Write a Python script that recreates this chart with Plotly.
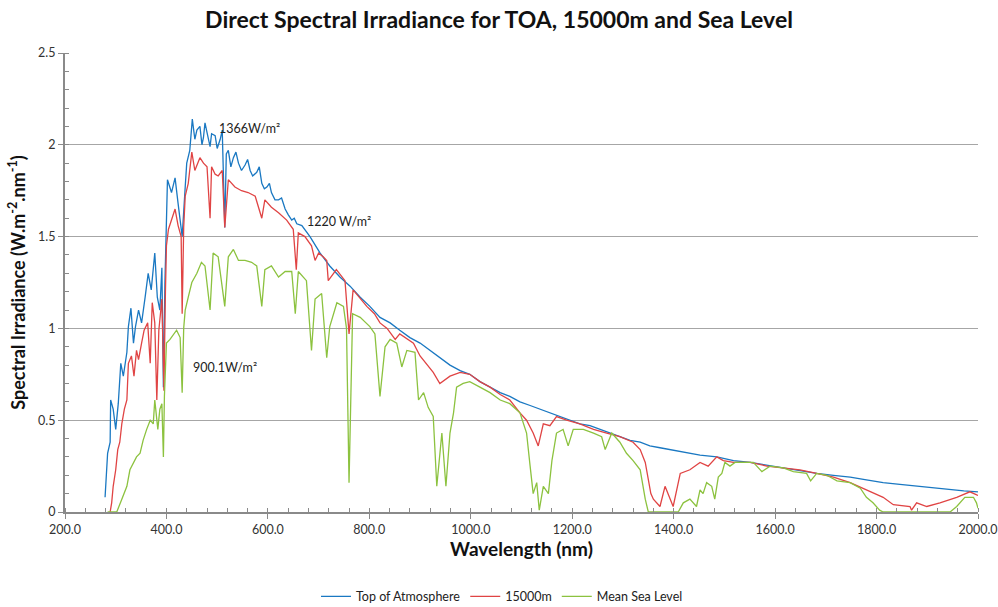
import plotly.graph_objects as go

# ---- data ----
wl_toa = [279, 284, 289, 290, 295, 300, 305, 310, 315, 322, 325, 330, 335, 339, 345, 351, 358, 364, 370, 377,
          382, 387, 391, 394, 397, 400, 402, 410, 417, 423, 427, 431, 437, 440, 446, 451, 456, 460, 466, 470,
          473, 476, 479, 483, 486, 489, 496, 500, 506, 510, 515, 518, 522, 527, 532, 537, 542, 548, 555, 560,
          565, 570, 578, 583, 588, 593, 598, 603, 607, 614, 621, 627, 634, 640, 647, 652, 657, 667, 683, 703,
          722, 742, 762, 782, 801, 821, 841, 860, 880, 900, 920, 939, 959, 979, 998, 1018, 1038, 1058, 1077,
          1097, 1117, 1137, 1156, 1176, 1196, 1215, 1235, 1255, 1275, 1294, 1314, 1334, 1353, 1373, 1393,
          1419, 1452, 1485, 1518, 1551, 1584, 1616, 1649, 1682, 1715, 1748, 1780, 1813, 1846, 1879, 1912,
          1945, 1972, 2000]
toa = [0.08, 0.32, 0.38, 0.61, 0.56, 0.45, 0.59, 0.81, 0.74, 0.87, 1.01, 1.11, 0.92, 1.01, 1.10, 1.03, 1.17,
       1.30, 1.21, 1.41, 1.17, 1.10, 1.33, 0.68, 1.25, 1.61, 1.81, 1.74, 1.82, 1.68, 1.59, 1.50, 1.77, 1.90,
       1.97, 2.14, 2.03, 2.08, 2.10, 2.00, 2.04, 2.12, 2.08, 2.02, 1.99, 2.06, 2.05, 1.98, 2.03, 2.08, 1.55,
       1.95, 1.97, 1.88, 1.93, 1.96, 1.90, 1.86, 1.89, 1.92, 1.86, 1.83, 1.85, 1.88, 1.79, 1.76, 1.77, 1.79,
       1.74, 1.70, 1.70, 1.71, 1.65, 1.62, 1.59, 1.60, 1.57, 1.56, 1.50, 1.41, 1.34, 1.28, 1.23, 1.17, 1.12,
       1.06, 1.03, 0.99, 0.95, 0.92, 0.88, 0.84, 0.80, 0.77, 0.75, 0.71, 0.68, 0.65, 0.63, 0.60, 0.58, 0.56,
       0.54, 0.52, 0.50, 0.48, 0.47, 0.45, 0.43, 0.41, 0.39, 0.38, 0.36, 0.35, 0.34, 0.33, 0.31, 0.30, 0.28,
       0.27, 0.255, 0.24, 0.225, 0.21, 0.20, 0.19, 0.175, 0.16, 0.15, 0.14, 0.13, 0.12, 0.115, 0.11]

wl_15k = [289, 292, 295, 300, 304, 308, 312, 317, 322, 325, 331, 336, 341, 345, 351, 356, 363, 368, 372, 377,
          381, 385, 391, 395, 398, 400, 404, 410, 417, 423, 429, 431, 434, 437, 443, 450, 456, 466, 473, 480,
          486, 489, 496, 502, 510, 515, 522, 535, 548, 561, 575, 588, 594, 607, 621, 637, 650, 656, 660, 673,
          686, 693, 700, 709, 716, 719, 729, 735, 752, 760, 768, 795, 810, 821, 835, 851, 860, 887, 900, 926,
          939, 959, 979, 998, 1018, 1038, 1058, 1077, 1097, 1110, 1123, 1133, 1143, 1156, 1169, 1189, 1215,
          1242, 1268, 1294, 1320, 1334, 1344, 1350, 1355, 1360, 1373, 1383, 1393, 1399, 1413, 1432, 1452,
          1468, 1485, 1498, 1518, 1551, 1584, 1616, 1649, 1682, 1715, 1748, 1780, 1813, 1833, 1866, 1869,
          1879, 1899, 1925, 1958, 1984, 2000]
alt15k = [0.0, 0.05, 0.14, 0.23, 0.34, 0.38, 0.48, 0.56, 0.61, 0.81, 0.85, 0.74, 0.88, 0.83, 0.92, 0.99, 1.03,
          0.81, 1.14, 1.03, 0.61, 0.99, 1.16, 0.66, 1.20, 1.45, 1.54, 1.59, 1.65, 1.56, 1.50, 1.08, 1.55, 1.72,
          1.79, 1.96, 1.86, 1.93, 1.90, 1.88, 1.60, 1.88, 1.84, 1.83, 1.86, 1.55, 1.81, 1.77, 1.75, 1.74, 1.72,
          1.60, 1.70, 1.66, 1.63, 1.59, 1.54, 1.32, 1.52, 1.50, 1.45, 1.37, 1.41, 1.39, 1.37, 1.26, 1.30, 1.32,
          1.26, 0.97, 1.21, 1.12, 1.08, 1.03, 1.00, 0.94, 0.97, 0.92, 0.85, 0.76, 0.70, 0.74, 0.76, 0.75, 0.71,
          0.68, 0.64, 0.61, 0.54, 0.50, 0.43, 0.36, 0.48, 0.47, 0.52, 0.50, 0.48, 0.45, 0.43, 0.41, 0.38, 0.34,
          0.27, 0.17, 0.10, 0.07, 0.03, 0.14, 0.07, 0.03, 0.21, 0.23, 0.27, 0.25, 0.30, 0.28, 0.27, 0.27, 0.25,
          0.24, 0.23, 0.21, 0.19, 0.16, 0.12, 0.08, 0.04, 0.03, 0.01, 0.05, 0.03, 0.05, 0.08, 0.11, 0.09]

wl_msl = [284, 302, 312, 322, 328, 335, 341, 348, 354, 361, 368, 374, 377, 383, 387, 391, 394, 396, 400, 407,
          414, 420, 427, 431, 434, 437, 443, 450, 460, 469, 476, 486, 492, 502, 515, 522, 532, 542, 555, 568,
          578, 588, 594, 607, 621, 634, 647, 654, 660, 676, 686, 693, 706, 716, 722, 736, 749, 755, 760, 764,
          767, 782, 801, 811, 821, 831, 841, 854, 864, 874, 890, 897, 907, 916, 926, 933, 943, 951, 959, 966,
          972, 985, 998, 1018, 1038, 1058, 1077, 1097, 1110, 1117, 1123, 1130, 1135, 1143, 1153, 1160, 1169,
          1182, 1192, 1202, 1222, 1242, 1258, 1265, 1278, 1294, 1307, 1320, 1334, 1344, 1350, 1409, 1419, 1432,
          1445, 1452, 1458, 1465, 1475, 1481, 1488, 1495, 1501, 1511, 1521, 1537, 1557, 1574, 1590, 1616, 1636,
          1662, 1670, 1682, 1702, 1722, 1748, 1768, 1780, 1793, 1806, 1813, 1945, 1958, 1974, 1991, 1997, 2000]
msl = [0, 0, 0.07, 0.14, 0.23, 0.27, 0.30, 0.32, 0.39, 0.45, 0.50, 0.48, 0.61, 0.45, 0.56, 0.59, 0.30, 0.63, 0.92,
       0.94, 0.97, 0.99, 0.95, 0.65, 1.00, 1.10, 1.17, 1.25, 1.30, 1.36, 1.34, 1.10, 1.41, 1.39, 1.12, 1.39, 1.43,
       1.37, 1.37, 1.36, 1.34, 1.12, 1.32, 1.34, 1.28, 1.31, 1.31, 1.08, 1.31, 1.26, 0.88, 1.16, 1.19, 0.84, 1.01,
       1.14, 1.12, 1.00, 0.16, 0.60, 1.08, 1.06, 1.01, 0.97, 0.63, 0.90, 0.94, 0.92, 0.79, 0.88, 0.87, 0.61, 0.65,
       0.57, 0.52, 0.14, 0.43, 0.14, 0.43, 0.54, 0.68, 0.70, 0.71, 0.68, 0.65, 0.61, 0.59, 0.54, 0.43, 0.25, 0.10,
       0.16, 0.01, 0.14, 0.10, 0.28, 0.43, 0.45, 0.36, 0.45, 0.45, 0.43, 0.41, 0.34, 0.43, 0.38, 0.32, 0.28, 0.23,
       0.07, 0, 0, 0.05, 0.07, 0.03, 0.12, 0.10, 0.16, 0.14, 0.07, 0.19, 0.21, 0.27, 0.25, 0.27, 0.27, 0.27, 0.22,
       0.25, 0.24, 0.22, 0.21, 0.17, 0.21, 0.20, 0.17, 0.16, 0.13, 0.08, 0.05, 0.01, 0, 0, 0.03, 0.08, 0.08, 0.05,
       0.02]

series_names = ["Top of Atmosphere", "15000m", "Mean Sea Level"]
colors = ["#1a78c2", "#e04444", "#8cc23f"]

labels = ["1366W/m²", "1220 W/m²", "900.1W/m²"]
label_x = [500, 673, 448]
label_y = [2.09, 1.58, 0.785]

FONT = "Lato"

fig = go.Figure()
for wl, vals, name, col in zip([wl_toa, wl_15k, wl_msl], [toa, alt15k, msl], series_names, colors):
    fig.add_trace(go.Scatter(x=wl, y=vals, mode="lines", name=name,
                             line=dict(color=col, width=1.3)))

for t, x, y in zip(labels, label_x, label_y):
    fig.add_annotation(x=x, y=y, text=t, showarrow=False, xanchor="left", yanchor="middle",
                       font=dict(family=FONT, size=12.5, color="#222"))

fig.update_layout(
    width=998, height=607,
    margin=dict(l=65, r=20, t=53, b=95),
    paper_bgcolor="white", plot_bgcolor="white",
    font=dict(family=FONT, size=12, color="#333"),
    title=dict(text="<b>Direct Spectral Irradiance for TOA, 15000m and Sea Level</b>",
               x=0.5, xanchor="center", y=0.967, yanchor="middle",
               font=dict(family=FONT, size=23, color="#111")),
    legend=dict(orientation="h", xref="container", yref="container", x=0.503, y=0.017,
                xanchor="center", yanchor="middle", font=dict(family=FONT, size=12.5, color="#222")),
    showlegend=True,
)
fig.update_xaxes(range=[200, 2000], dtick=200, tick0=200, tickformat=".1f", automargin=False,
                 showline=True, linecolor="#8a8a8a", linewidth=2, showgrid=False, zeroline=False,
                 ticks="outside", ticklen=5, tickcolor="#8a8a8a",
                 minor=dict(dtick=40, ticks="inside", ticklen=4, tickcolor="#8a8a8a", showgrid=False),
                 title=dict(text="<b>Wavelength (nm)</b>", font=dict(family=FONT, size=19, color="#111"),
                            standoff=6),
                 tickfont=dict(size=12.5))
fig.update_yaxes(range=[0, 2.5], dtick=0.5, showline=True, linecolor="#8a8a8a", linewidth=2,
                 automargin=False,
                 showgrid=True, gridcolor="#a6a6a6", gridwidth=1, zeroline=False,
                 ticks="outside", ticklen=5, tickcolor="#8a8a8a",
                 minor=dict(dtick=0.1, ticks="inside", ticklen=4, tickcolor="#8a8a8a", showgrid=False),
                 title=dict(text="<b>Spectral Irradiance (W.m<sup>-2</sup>.nm<sup>-1</sup>)</b>",
                            font=dict(family=FONT, size=18, color="#111"), standoff=8),
                 tickfont=dict(size=12.5))

fig.write_html("out.html", config={"displayModeBar": False},
               post_script="document.body.style.margin='0';")
